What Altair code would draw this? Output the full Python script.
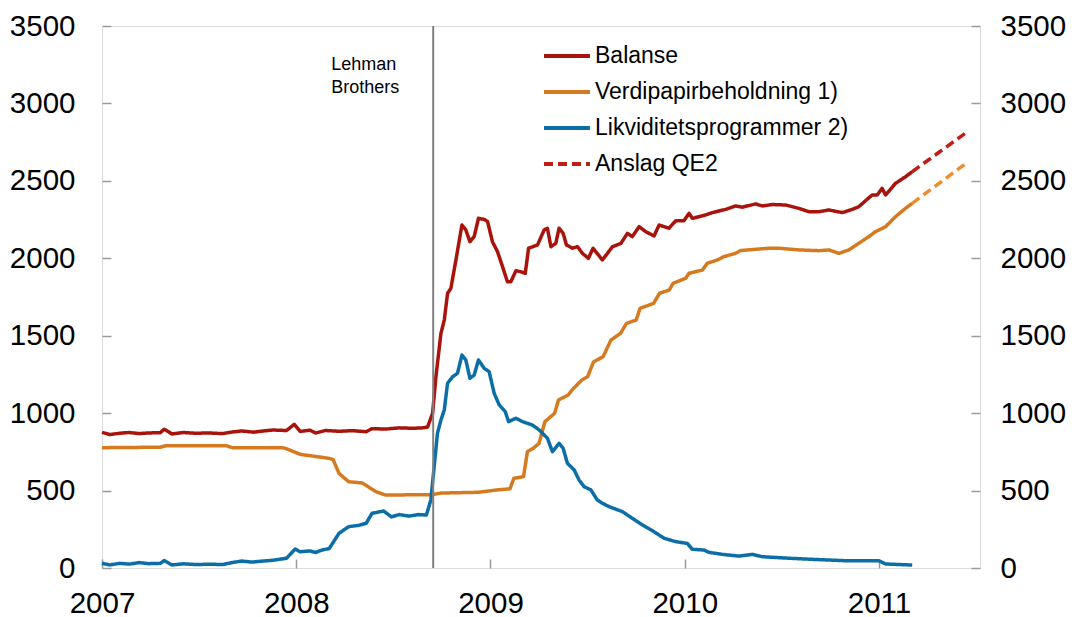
import altair as alt
import pandas as pd

# ---------------- data ----------------
series_names = ["Balanse", "Verdipapirbeholdning 1)", "Likviditetsprogrammer 2)", "Anslag QE2"]
series_colors = ["#A8130C", "#D67A1F", "#0B6EA6", "#BE1E16"]

bal_year = [2007.000, 2007.040, 2007.090, 2007.140, 2007.190, 2007.240, 2007.300, 2007.320, 2007.360, 2007.420,
            2007.480, 2007.550, 2007.620, 2007.670, 2007.720, 2007.780, 2007.830, 2007.880, 2007.950, 2007.990,
            2008.020, 2008.070, 2008.100, 2008.150, 2008.220, 2008.290, 2008.360, 2008.390, 2008.460, 2008.530,
            2008.600, 2008.650, 2008.676, 2008.702, 2008.719, 2008.745, 2008.762, 2008.779, 2008.796, 2008.822,
            2008.853, 2008.873, 2008.894, 2008.916, 2008.938, 2008.968, 2008.985, 2009.010, 2009.036, 2009.062,
            2009.087, 2009.105, 2009.131, 2009.156, 2009.179, 2009.196, 2009.242, 2009.276, 2009.293, 2009.311,
            2009.336, 2009.353, 2009.374, 2009.391, 2009.422, 2009.448, 2009.473, 2009.504, 2009.528, 2009.576,
            2009.628, 2009.671, 2009.705, 2009.730, 2009.765, 2009.799, 2009.842, 2009.868, 2009.919, 2009.954,
            2009.996, 2010.022, 2010.039, 2010.108, 2010.142, 2010.211, 2010.262, 2010.296, 2010.365, 2010.399,
            2010.451, 2010.520, 2010.588, 2010.639, 2010.691, 2010.742, 2010.811, 2010.862, 2010.896, 2010.931,
            2010.965, 2010.991, 2011.016, 2011.034, 2011.085, 2011.137, 2011.171]
bal_value = [876, 862, 870, 875, 868, 872, 874, 896, 866, 875,
             870, 872, 868, 878, 885, 877, 885, 891, 888, 928,
             882, 890, 872, 888, 883, 887, 880, 900, 897, 905,
             902, 905, 910, 999, 1235, 1516, 1601, 1774, 1806, 1989,
             2215, 2183, 2107, 2140, 2258, 2251, 2237, 2107, 2043, 1946,
             1849, 1849, 1920, 1913, 1903, 2065, 2086, 2183, 2194, 2075,
             2096, 2194, 2161, 2086, 2065, 2075, 2032, 2000, 2065, 1989,
             2075, 2096, 2161, 2140, 2204, 2172, 2144, 2215, 2194, 2243,
             2243, 2290, 2258, 2280, 2295, 2316, 2338, 2330, 2351, 2338,
             2347, 2344, 2322, 2301, 2301, 2312, 2295, 2316, 2333, 2372,
             2409, 2409, 2452, 2409, 2484, 2527, 2559]

ver_year = [2007.000, 2007.300, 2007.330, 2007.640, 2007.670, 2007.930, 2007.950, 2008.020, 2008.170, 2008.190,
            2008.220, 2008.270, 2008.340, 2008.410, 2008.460, 2008.700, 2008.745, 2008.940, 2009.030, 2009.100,
            2009.120, 2009.170, 2009.190, 2009.220, 2009.250, 2009.280, 2009.310, 2009.330, 2009.350, 2009.400,
            2009.420, 2009.470, 2009.500, 2009.530, 2009.580, 2009.620, 2009.670, 2009.700, 2009.750, 2009.770,
            2009.840, 2009.870, 2009.920, 2009.940, 2010.005, 2010.022, 2010.091, 2010.116, 2010.168, 2010.202,
            2010.262, 2010.288, 2010.365, 2010.434, 2010.485, 2010.588, 2010.691, 2010.742, 2010.794, 2010.845,
            2010.896, 2010.948, 2010.982, 2011.034, 2011.085, 2011.137, 2011.171]
ver_value = [777, 780, 790, 790, 777, 777, 770, 734, 708, 700,
             611, 557, 549, 493, 471, 474, 484, 489, 504, 511,
             579, 590, 751, 773, 805, 945, 977, 999, 1085, 1117,
             1150, 1214, 1235, 1330, 1365, 1472, 1516, 1580, 1601, 1677,
             1709, 1774, 1795, 1838, 1871, 1903, 1924, 1968, 1989, 2011,
             2032, 2050, 2058, 2065, 2065, 2054, 2049, 2054, 2032, 2054,
             2097, 2140, 2172, 2204, 2269, 2323, 2355]

liq_year = [2007.000, 2007.040, 2007.090, 2007.140, 2007.190, 2007.240, 2007.300, 2007.320, 2007.360, 2007.420,
            2007.490, 2007.550, 2007.620, 2007.670, 2007.720, 2007.770, 2007.830, 2007.880, 2007.950, 2007.995,
            2008.020, 2008.070, 2008.100, 2008.130, 2008.170, 2008.220, 2008.270, 2008.320, 2008.360, 2008.390,
            2008.450, 2008.490, 2008.530, 2008.580, 2008.630, 2008.670, 2008.693, 2008.710, 2008.727, 2008.745,
            2008.762, 2008.779, 2008.805, 2008.830, 2008.853, 2008.873, 2008.894, 2008.916, 2008.938, 2008.968,
            2008.993, 2009.019, 2009.045, 2009.076, 2009.093, 2009.131, 2009.165, 2009.216, 2009.251, 2009.293,
            2009.319, 2009.353, 2009.374, 2009.396, 2009.431, 2009.456, 2009.482, 2009.517, 2009.550, 2009.576,
            2009.611, 2009.679, 2009.730, 2009.782, 2009.842, 2009.894, 2009.954, 2010.013, 2010.039, 2010.099,
            2010.125, 2010.193, 2010.279, 2010.348, 2010.399, 2010.537, 2010.656, 2010.828, 2010.999, 2011.034,
            2011.171]
liq_value = [30, 20, 30, 25, 35, 28, 30, 48, 20, 27,
             22, 25, 22, 35, 45, 38, 45, 50, 63, 123,
             105, 110, 100, 115, 126, 224, 267, 275, 289, 353,
             368, 330, 345, 335, 345, 342, 439, 654, 870, 956,
             1020, 1193, 1235, 1257, 1375, 1343, 1225, 1246, 1343, 1289,
             1268, 1128, 1053, 1010, 945, 967, 945, 923, 891, 838,
             751, 805, 773, 676, 633, 568, 525, 504, 439, 418,
             396, 364, 321, 278, 234, 192, 170, 159, 121, 116,
             101, 88, 77, 88, 73, 63, 56, 47, 47, 26,
             19]

qe2_year = [2011.171, 2011.460]
qe2_balanse = [2559, 2822]
qe2_verdipapir = [2355, 2624]

lehman_year = [2008.705]
lehman_label = [["Lehman", "Brothers"]]
lehman_top = [3500]

x_ticks = [2007, 2008, 2009, 2010, 2011]
y_ticks = [0, 500, 1000, 1500, 2000, 2500, 3000, 3500]
x_domain = [2007, 2011.52]
y_domain = [0, 3500]

# ---------------- tables ----------------
main = pd.concat([
    pd.DataFrame({"year": bal_year, "value": bal_value, "serie": series_names[0]}),
    pd.DataFrame({"year": ver_year, "value": ver_value, "serie": series_names[1]}),
    pd.DataFrame({"year": liq_year, "value": liq_value, "serie": series_names[2]}),
    pd.DataFrame({"year": qe2_year, "value": qe2_balanse, "serie": series_names[3]}),
], ignore_index=True)
proj = pd.DataFrame({"year": qe2_year, "value": qe2_verdipapir})
lehman = pd.DataFrame({"year": lehman_year, "value": lehman_top, "label": lehman_label})

FONT = "Liberation Sans"
GRAY = "#9a9a9a"
TICK_FS = 29.5

x_scale = alt.Scale(domain=x_domain, nice=False, zero=False)
y_scale = alt.Scale(domain=y_domain, nice=False, zero=True)

x_axis = alt.Axis(values=x_ticks, format="d", labelFontSize=TICK_FS, labelFont=FONT, labelColor="black",
                  labelPadding=21, tickSize=9, tickColor=GRAY, tickWidth=1.5, offset=-9,
                  domain=False, grid=False, labelFlush=False, labelOverlap=False)

def y_axis(orient, pad):
    return alt.Axis(orient=orient, values=y_ticks, format="d", labelFontSize=TICK_FS, labelFont=FONT,
                    labelColor="black", labelPadding=pad, tickSize=9, tickColor=GRAY, tickWidth=1.5,
                    offset=-9, domain=False, grid=False, labelOverlap=False, labelFlush=False)

leg = alt.Legend(orient="none", legendX=440, legendY=20, title=None, labelFontSize=23, labelFont=FONT,
                 labelColor="black", labelLimit=600, symbolType="stroke", symbolSize=2116,
                 symbolStrokeWidth=4, labelOffset=3, rowPadding=13, clipHeight=20, padding=0)

lines = alt.Chart(main).mark_line(strokeWidth=3.5, strokeJoin="round").encode(
    x=alt.X("year:Q", scale=x_scale, axis=x_axis, title=None),
    y=alt.Y("value:Q", scale=y_scale, axis=y_axis("left", 27), title=None),
    color=alt.Color("serie:N", scale=alt.Scale(domain=series_names, range=series_colors), legend=leg),
    strokeDash=alt.StrokeDash("serie:N", scale=alt.Scale(domain=series_names,
                              range=[[1, 0], [1, 0], [1, 0], [9, 5]]), legend=leg),
    order=alt.Order("year:Q"),
)

proj_line = alt.Chart(proj).mark_line(strokeWidth=3.5, color="#EE8E2C", strokeDash=[9, 5]).encode(
    x=alt.X("year:Q", scale=x_scale, title=None),
    y=alt.Y("value:Q", scale=y_scale, axis=y_axis("right", 20), title=None),
)

rule = alt.Chart(lehman).mark_rule(color="#808080", strokeWidth=2).encode(
    x=alt.X("year:Q", scale=x_scale, title=None),
)

text = alt.Chart(lehman).mark_text(align="left", baseline="alphabetic", fontSize=18, lineHeight=22.5,
                                   font=FONT, color="black", dx=-102, dy=44).encode(
    x=alt.X("year:Q", scale=x_scale, title=None),
    y=alt.Y("value:Q", scale=y_scale, axis=None, title=None),
    text="label",
)

chart = alt.layer(lines, proj_line, rule, text).resolve_scale(y="independent").properties(
    width=878, height=542,
    autosize=alt.AutoSizeParams(type="none"),
    padding={"left": 94, "top": 18, "right": 90, "bottom": 48},
).configure_view(stroke=GRAY, strokeWidth=1.5).configure(background="white")

chart.save("out.html", embed_options={"renderer": "svg", "actions": False})
